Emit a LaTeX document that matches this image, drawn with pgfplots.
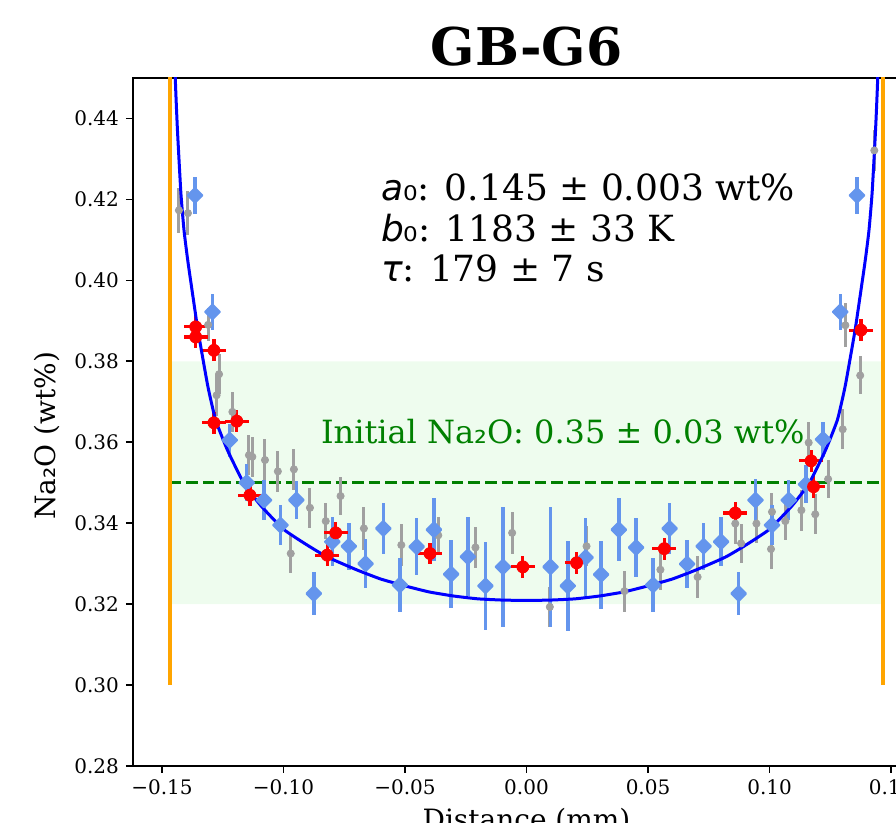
\documentclass[border=0pt]{standalone}
\usepackage{fontspec}
\setmainfont{DejaVu Serif}
\newfontfamily\dvsans{DejaVu Sans}
\usepackage{pgfplots}
\usepackage{pgfplotstable}
\pgfplotsset{compat=1.18}

\definecolor{graypt}{RGB}{160,160,160}
\definecolor{cfblue}{RGB}{100,149,237}
\definecolor{mplorange}{RGB}{255,165,0}
\definecolor{mplgreen}{RGB}{0,128,0}
\definecolor{bandgreen}{RGB}{238,252,238}

\newcommand{\sub}[1]{{\dvsans #1}}

% gray measurements: x, y, y error
\pgfplotstableread{
x y ey
-0.1430 0.4173 0.0056
-0.1393 0.4166 0.0054
-0.1310 0.3890 0.0041
-0.1275 0.3716 0.0050
-0.1265 0.3768 0.0050
-0.1210 0.3675 0.0049
-0.1142 0.3568 0.0049
-0.1128 0.3564 0.0050
-0.1076 0.3556 0.0051
-0.1023 0.3528 0.0050
-0.0970 0.3325 0.0049
-0.0957 0.3533 0.0050
-0.0891 0.3438 0.0049
-0.0826 0.3405 0.0045
-0.0765 0.3467 0.0047
-0.0669 0.3387 0.0053
-0.0515 0.3346 0.0051
-0.0363 0.3370 0.0045
-0.0210 0.3340 0.0051
-0.0059 0.3376 0.0051
0.0096 0.3193 0.0049
0.0247 0.3343 0.0049
0.0403 0.3232 0.0051
0.0551 0.3285 0.0049
0.0704 0.3267 0.0051
0.0859 0.3399 0.0051
0.0883 0.3350 0.0049
0.0946 0.3399 0.0049
0.1006 0.3336 0.0049
0.1010 0.3428 0.0047
0.1065 0.3405 0.0047
0.1131 0.3432 0.0051
0.1161 0.3599 0.0051
0.1188 0.3422 0.0049
0.1241 0.3509 0.0047
0.1301 0.3632 0.0049
0.1312 0.3889 0.0054
0.1373 0.3765 0.0047
0.1431 0.4321 0.0050
}\graydata

% blue measurements
\pgfplotstableread{
x y ey
-0.1364 0.4210 0.0045
-0.1292 0.3922 0.0045
-0.1221 0.3605 0.0041
-0.1151 0.3500 0.0045
-0.1080 0.3457 0.0049
-0.1012 0.3395 0.0049
-0.0947 0.3457 0.0047
-0.0875 0.3226 0.0053
-0.0799 0.3354 0.0060
-0.0731 0.3343 0.0058
-0.0662 0.3300 0.0060
-0.0589 0.3387 0.0064
-0.0521 0.3247 0.0066
-0.0452 0.3342 0.0070
-0.0381 0.3384 0.0078
-0.0310 0.3274 0.0084
-0.0241 0.3317 0.0097
-0.0169 0.3245 0.0109
-0.0097 0.3292 0.0148
0.0099 0.3292 0.0148
0.0170 0.3245 0.0111
0.0243 0.3315 0.0097
0.0307 0.3273 0.0084
0.0380 0.3384 0.0078
0.0451 0.3340 0.0072
0.0521 0.3247 0.0066
0.0589 0.3387 0.0064
0.0661 0.3299 0.0060
0.0729 0.3343 0.0058
0.0801 0.3354 0.0060
0.0873 0.3226 0.0053
0.0942 0.3457 0.0051
0.1010 0.3395 0.0049
0.1079 0.3457 0.0049
0.1150 0.3496 0.0047
0.1220 0.3607 0.0043
0.1291 0.3922 0.0045
0.1360 0.4210 0.0045
}\bluedata

% red measurements: x, y, x error, y error
\pgfplotstableread{
x y ex ey
-0.1361 0.3885 0.0049 0.0027
-0.1361 0.3860 0.0049 0.0027
-0.1286 0.3827 0.0049 0.0027
-0.1286 0.3648 0.0049 0.0027
-0.1192 0.3652 0.0049 0.0027
-0.1138 0.3469 0.0049 0.0027
-0.0820 0.3321 0.0049 0.0027
-0.0785 0.3376 0.0049 0.0027
-0.0397 0.3325 0.0049 0.0027
-0.0015 0.3292 0.0049 0.0027
0.0206 0.3302 0.0049 0.0027
0.0567 0.3337 0.0049 0.0027
0.0859 0.3425 0.0049 0.0027
0.1171 0.3554 0.0049 0.0027
0.1181 0.3490 0.0049 0.0027
0.1376 0.3877 0.0049 0.0027
}\reddata

% fitted profile
\pgfplotstableread{
x y
-0.1452 0.4700
-0.1445 0.4500
-0.1436 0.4370
-0.1422 0.4216
-0.1409 0.4123
-0.1395 0.4055
-0.1382 0.4000
-0.1354 0.3885
-0.1334 0.3815
-0.1310 0.3735
-0.1279 0.3655
-0.1230 0.3580
-0.1164 0.3500
-0.1094 0.3444
-0.1000 0.3385
-0.0900 0.3345
-0.0818 0.3316
-0.0700 0.3285
-0.0600 0.3262
-0.0500 0.3245
-0.0400 0.3230
-0.0300 0.3220
-0.0200 0.3213
-0.0100 0.3210
0.0000 0.3209
0.0100 0.3210
0.0200 0.3213
0.0300 0.3220
0.0400 0.3230
0.0500 0.3245
0.0600 0.3262
0.0700 0.3285
0.0818 0.3316
0.0900 0.3345
0.1000 0.3385
0.1094 0.3444
0.1164 0.3500
0.1230 0.3580
0.1279 0.3655
0.1310 0.3735
0.1334 0.3815
0.1354 0.3885
0.1382 0.4000
0.1395 0.4055
0.1409 0.4123
0.1422 0.4216
0.1436 0.4370
0.1445 0.4500
0.1452 0.4700
}\fitdata

\begin{document}
\begin{tikzpicture}
\begin{axis}[name=ax, at={(0,0)}, anchor=south west,
  scale only axis, width=393.5pt, height=344pt,
  xmin=-0.1619, xmax=0.1619, ymin=0.28, ymax=0.45,
  axis line style={line width=0.8pt},
  tick style={line width=0.8pt, black},
  tick align=outside, major tick length=3.5pt, tick pos=left,
  scaled ticks=false,
  xtick={-0.15,-0.1,-0.05,0,0.05,0.1,0.15},
  xticklabels={−0.15,−0.10,−0.05,0.00,0.05,0.10,0.15},
  ytick={0.28,0.30,0.32,0.34,0.36,0.38,0.40,0.42,0.44},
  yticklabels={0.28,0.30,0.32,0.34,0.36,0.38,0.40,0.42,0.44},
  ticklabel style={font=\fontsize{10}{12}\selectfont},
  ]
  % initial composition band and line
  \addplot[draw=none, fill=bandgreen] coordinates
    {(-0.1468,0.32) (0.1468,0.32) (0.1468,0.38) (-0.1468,0.38) (-0.1468,0.32)};
  \addplot[mplgreen, line width=1.6pt, dash pattern=on 5.8pt off 2.5pt] coordinates
    {(-0.1468,0.35) (0.1468,0.35)};
  % interface positions
  \addplot[mplorange, line width=2pt] coordinates {(-0.1468,0.30) (-0.1468,0.46)};
  \addplot[mplorange, line width=2pt] coordinates {(0.1468,0.30) (0.1468,0.46)};

  \addplot[only marks, mark=*, mark size=1.8pt, color=graypt,
    error bars/.cd, y dir=both, y explicit, error mark=none,
    error bar style={line width=1.5pt, graypt}]
    table[x=x, y=y, y error=ey] {\graydata};
  \addplot[only marks, mark=square*, mark size=2.6pt, color=cfblue,
    mark options={rotate=45, line width=1pt, line join=round},
    error bars/.cd, y dir=both, y explicit, error mark=none,
    error bar style={line width=1.7pt, cfblue}]
    table[x=x, y=y, y error=ey] {\bluedata};
  \addplot[only marks, mark=*, mark size=3pt, color=red,
    error bars/.cd, x dir=both, x explicit, y dir=both, y explicit, error mark=none,
    error bar style={line width=1.6pt, red}]
    table[x=x, y=y, x error=ex, y error=ey] {\reddata};

  \addplot[blue, line width=1.5pt, smooth, tension=0.3] table[x=x, y=y] {\fitdata};

  \node[anchor=base west, font=\fontsize{18}{20}\selectfont, inner sep=0pt]
    at (axis cs:-0.0600,0.41975) {{\dvsans\itshape a}\sub{₀}: 0.145 ± 0.003 wt\%};
  \node[anchor=base west, font=\fontsize{18}{20}\selectfont, inner sep=0pt]
    at (axis cs:-0.0600,0.40963) {{\dvsans\itshape b}\sub{₀}: 1183 ± 33 K};
  \node[anchor=base west, font=\fontsize{18}{20}\selectfont, inner sep=0pt]
    at (axis cs:-0.0600,0.39975) {{\dvsans\itshape τ}: 179 ± 7 s};
  \node[anchor=base west, font=\fontsize{16}{18}\selectfont, inner sep=0pt, text=mplgreen]
    at (axis cs:-0.0847,0.3598) {Initial Na\sub{₂}O: 0.35 ± 0.03 wt\%};
\end{axis}
\node[anchor=base, font=\fontsize{26}{30}\selectfont\bfseries, inner sep=0pt]
  at ([yshift=6pt]ax.north) {GB-G6};
\node[rotate=90, font=\fontsize{14}{16}\selectfont, inner sep=0pt]
  at ([xshift=-43pt, yshift=-7pt]ax.west) {Na\sub{₂}O (wt\%)};
\node[anchor=north, font=\fontsize{14}{16}\selectfont, inner sep=0pt]
  at ([yshift=-21pt]ax.south) {Distance (mm)};
\pgfresetboundingbox
\useasboundingbox (-66.5pt,-28.5pt) rectangle (381.5pt,383pt);
\end{tikzpicture}
\end{document}
